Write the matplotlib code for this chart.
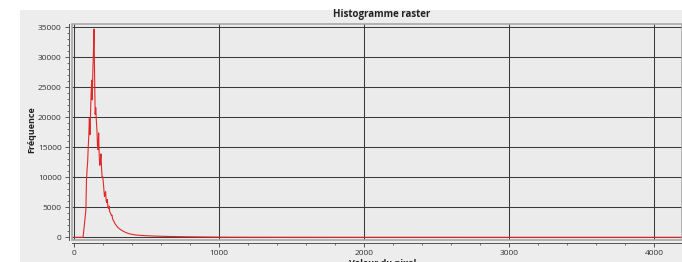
import matplotlib
matplotlib.use("Agg")
import matplotlib.pyplot as plt
from matplotlib.patches import Rectangle
from matplotlib.ticker import MultipleLocator

plt.rcParams['font.family'] = ['Open Sans', 'DejaVu Sans']

# ---- data ----
pixel_values = [0, 62, 66, 72, 77, 82, 86, 90, 94, 98, 102, 106, 110, 114, 118,
                122, 126, 130, 134, 138, 142, 146, 150, 154, 158, 162, 166, 170,
                174, 178, 182, 186, 190, 194, 198, 202, 206, 210, 214, 218, 222,
                226, 230, 234, 238, 242, 246, 250, 254, 258, 262, 266, 270, 276,
                282, 288, 294, 300, 310, 320, 330, 340, 350, 360, 375, 390, 410,
                430, 460, 500, 550, 600, 650, 700, 750, 800, 850, 900, 950, 1000,
                1100, 1300, 1600, 2000, 3000, 4200]
frequencies = [0, 0, 800, 2200, 3400, 4500, 9500, 11200, 12500, 15000, 16800,
               19900, 17100, 20500, 24000, 26200, 22900, 27500, 31000, 34700,
               27000, 20500, 21600, 19500, 18000, 15300, 14600, 17400, 13500,
               12000, 12800, 13900, 11500, 10000, 10100, 9200, 8000, 6800, 7300,
               7600, 6000, 5800, 6300, 5000, 4800, 5200, 4300, 4100, 3900, 3600,
               3700, 3100, 2900, 2600, 2300, 2100, 1900, 1700, 1500, 1300, 1150,
               1000, 880, 770, 640, 540, 450, 380, 320, 260, 210, 170, 140, 120,
               100, 85, 70, 60, 45, 35, 20, 12, 6, 3, 1, 0]
y_ticks = [0, 5000, 10000, 15000, 20000, 25000, 30000, 35000]
x_ticks = [0, 1000, 2000, 3000, 4000]
title = "Histogramme raster"
x_label = "Valeur du pixel"
y_label = "Fréquence"

# ---- layout ----
W, H = 682, 262
fig = plt.figure(figsize=(W / 100, H / 100), dpi=100, facecolor='white')
fig.patches.append(Rectangle((20 / W, 0), (W - 20) / W, (H - 10) / H,
                             transform=fig.transFigure, facecolor='#ededed',
                             edgecolor='none', zorder=-10))

ax_l, ax_r, ax_t, ax_b = 72, 682, 24, 240
ax = fig.add_axes([ax_l / W, (H - ax_b) / H, (ax_r - ax_l) / W, (ax_b - ax_t) / H])
ax.set_facecolor('#ebebeb')

ax.plot(pixel_values, frequencies, color='#e02828', lw=0.8, zorder=3)

px_per_x = 0.145
px_per_y = 0.006
x0_px, y0_px = 74, 237.3
ax.set_xlim((ax_l - x0_px) / px_per_x, (ax_r - x0_px) / px_per_x)
ax.set_ylim((y0_px - ax_b) / px_per_y, (y0_px - ax_t) / px_per_y)

ax.set_xticks(x_ticks)
ax.set_yticks(y_ticks)
ax.xaxis.set_minor_locator(MultipleLocator(200))
ax.yaxis.set_minor_locator(MultipleLocator(1000))
ax.grid(True, which='major', color='#3a3a3a', lw=0.75, zorder=1)
ax.set_axisbelow(True)

for s in ['top', 'right']:
    ax.spines[s].set_visible(False)
for s in ['left', 'bottom']:
    ax.spines[s].set_position(('outward', 2.5))
    ax.spines[s].set_color('#555555')
    ax.spines[s].set_linewidth(0.7)

ax.tick_params(which='major', direction='out', length=3, width=0.7,
               color='#555555', labelsize=6, labelcolor='#333333', pad=2)
ax.tick_params(which='minor', direction='out', length=1.6, width=0.6,
               color='#555555')

# canvas frame
ax.add_patch(Rectangle((0, 0), 1, 1, transform=ax.transAxes, fill=False,
                       edgecolor='#a8a8a8', lw=1.2, zorder=5, clip_on=False))

fig.text(382 / W, 1 - 15 / H, title, ha='center', va='center',
         fontsize=7, fontweight='bold', color='#222222')
fig.text(32 / W, 1 - 130 / H, y_label, ha='center', va='center', rotation=90,
         fontsize=6.5, fontweight='bold', color='#222222')
fig.text(383 / W, 1 - 259 / H, x_label, ha='center', va='top',
         fontsize=6.5, fontweight='bold', color='#222222')

fig.savefig('out.png', dpi=100, facecolor=fig.get_facecolor())
